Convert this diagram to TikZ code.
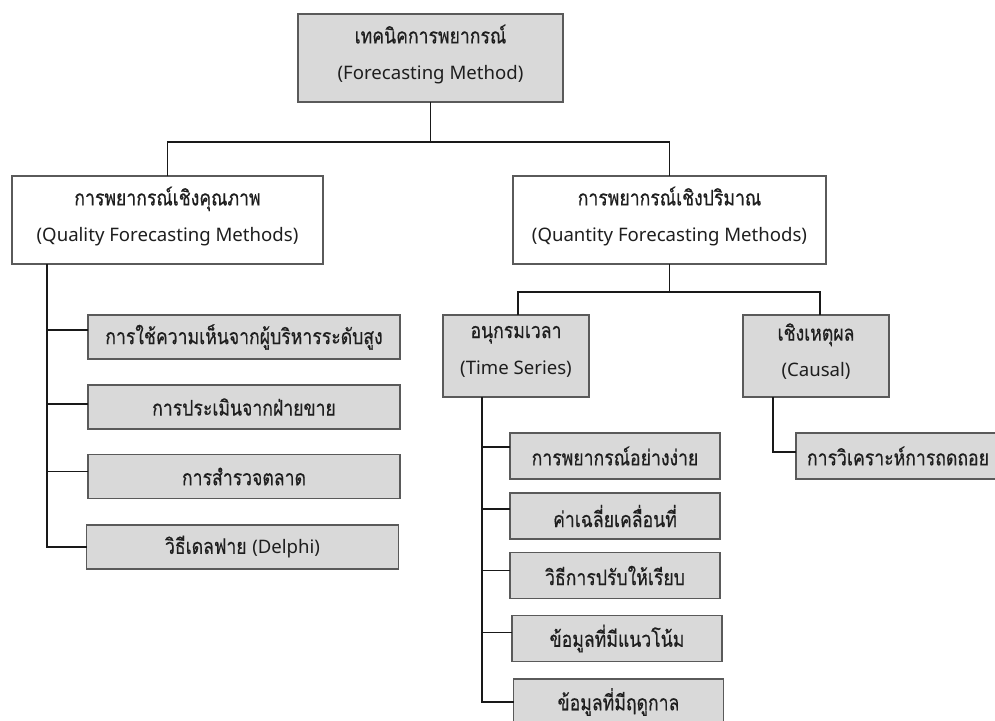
\documentclass[tikz,border=0pt]{standalone}
\usepackage{fontspec}
\newfontfamily\thaiface[Script=Thai,FakeStretch=0.82,FakeBold=0.45]{Loma}
\newcommand\thai{\thaiface\fontsize{21.5pt}{36pt}\selectfont}
\newfontfamily\lat{Noto Sans}
\definecolor{boxfill}{RGB}{217,217,217}
\definecolor{boxedge}{RGB}{90,90,90}
\definecolor{ink}{RGB}{30,30,30}
\begin{document}
\begin{tikzpicture}[x=1pt,y=-1pt,
  base/.style={draw=boxedge,line width=1.1pt,inner sep=0pt,outer sep=0pt,
    text=ink,align=center,font=\fontsize{18.6pt}{36pt}\selectfont},
  graybox/.style={base,fill=boxfill},
  whitebox/.style={base,fill=white},
  twoline/.style={text depth=12pt},
  conn/.style={draw=black!90,line width=1.6pt}]
\useasboundingbox (0,0) rectangle (995,720);

% root
\node[graybox,twoline,minimum width=265pt,minimum height=88pt] (root) at (430.5,58)
  {{\thai เทคนิคการพยากรณ์}\\{\lat (Forecasting Method)}};

% second level
\node[whitebox,twoline,minimum width=311pt,minimum height=88pt] (qual) at (167.5,220)
  {{\thai การพยากรณ์เชิงคุณภาพ}\\{\lat (Quality Forecasting Methods)}};
\node[whitebox,twoline,minimum width=313pt,minimum height=88pt] (quant) at (669.5,220)
  {{\thai การพยากรณ์เชิงปริมาณ}\\{\lat (Quantity Forecasting Methods)}};

% third level under quantity
\node[graybox,twoline,minimum width=146pt,minimum height=82pt] (ts) at (516,356)
  {{\thai อนุกรมเวลา}\\{\lat (Time Series)}};
\node[graybox,twoline,minimum width=146pt,minimum height=82pt] (causal) at (816,356)
  {{\thai เชิงเหตุผล}\\{\lat (Causal)}};

% qualitative methods
\tikzset{qitem/.style={graybox,minimum width=312pt,minimum height=44pt}}
\node[qitem] (q1) at (244,337)   {\thai การใช้ความเห็นจากผู้บริหารระดับสูง};
\node[qitem] (q2) at (244,407)   {\thai การประเมินจากฝ่ายขาย};
\node[qitem] (q3) at (244,476.5) {\thai การสำรวจตลาด};
\node[qitem] (q4) at (242.5,547) {{\thai วิธีเดลฟาย} {\lat (Delphi)}};

% time series methods
\tikzset{titem/.style={graybox,minimum width=210pt,minimum height=46pt}}
\node[titem] (t1) at (615,456)   {\thai การพยากรณ์อย่างง่าย};
\node[titem] (t2) at (615,516)   {\thai ค่าเฉลี่ยเคลื่อนที่};
\node[titem] (t3) at (615,575.5) {\thai วิธีการปรับให้เรียบ};
\node[titem] (t4) at (617,638.5) {\thai ข้อมูลที่มีแนวโน้ม};
\node[titem] (t5) at (618.5,702) {\thai ข้อมูลที่มีฤดูกาล};

% causal method
\node[graybox,minimum width=204pt,minimum height=46pt] (c1) at (898,456)
  {\thai การวิเคราะห์การถดถอย};

% trunk coordinates
\coordinate (bus1) at (430.5,142);
\coordinate (bus2) at (669.5,292);
\coordinate (qtop) at (47,264);
\coordinate (ttop) at (482,397);
\coordinate (ctop) at (773,397);

% connectors
\draw[conn] (root.south) -- (bus1);
\draw[conn] (qual.north) |- (bus1) -| (quant.north);
\draw[conn] (quant.south) -- (bus2);
\draw[conn] ([xshift=2pt]ts.north) |- (bus2) -| ([xshift=4pt]causal.north);

\draw[conn] ([yshift=7pt]q1.west) -| (qtop);
\draw[conn] ([yshift=3pt]q2.west) -| (qtop);
\draw[conn] ([yshift=5pt]q3.west) -| (qtop);
\draw[conn] (q4.west) -| (qtop);

\draw[conn] ([yshift=9pt]t1.west) -| (ttop);
\draw[conn] ([yshift=7pt]t2.west) -| (ttop);
\draw[conn] ([yshift=5pt]t3.west) -| (ttop);
\draw[conn] ([yshift=6pt]t4.west) -| (ttop);
\draw[conn] (t5.west) -| (ttop);

\draw[conn] ([yshift=4pt]c1.west) -| (ctop);
\end{tikzpicture}
\end{document}
